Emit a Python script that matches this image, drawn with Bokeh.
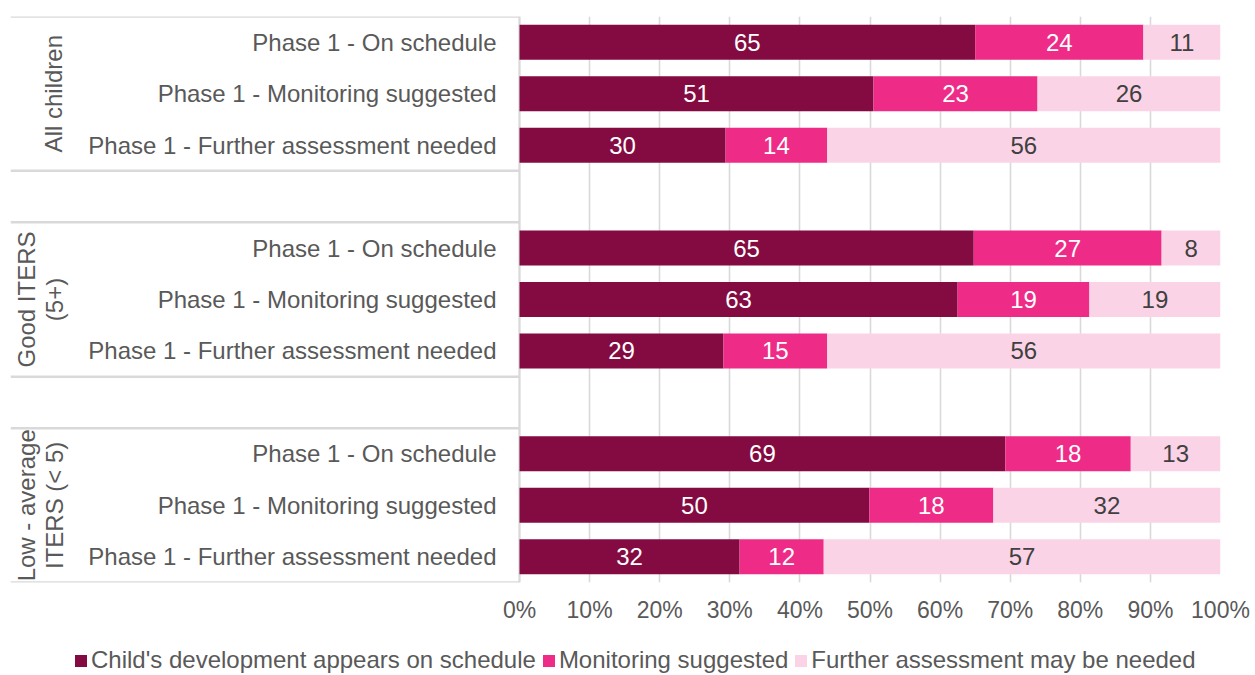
import math
from bokeh.plotting import figure
from bokeh.layouts import column
from bokeh.models import Range1d, FixedTicker, Legend, LegendItem, ColumnDataSource
from bokeh.core.properties import value
from bokeh.embed import file_html
from bokeh.resources import INLINE

# ---------------- data ----------------
groups = [["All children"], ["Good ITERS", "(5+)"], ["Low - average", "ITERS (< 5)"]]
phases = ["Phase 1 - On schedule", "Phase 1 - Monitoring suggested", "Phase 1 - Further assessment needed"]
series_names = ["Child's development appears on schedule", "Monitoring suggested", "Further assessment may be needed"]

on_schedule = [65.0, 50.5, 29.4, 64.8, 62.5, 29.1, 69.3, 49.9, 31.4]
monitoring = [24.0, 23.4, 14.5, 26.8, 18.8, 14.8, 17.9, 17.7, 12.0]
further = [11.0, 26.1, 56.1, 8.4, 18.7, 56.1, 12.8, 32.4, 56.6]

on_labels = ["65", "51", "30", "65", "63", "29", "69", "50", "32"]
mon_labels = ["24", "23", "14", "27", "19", "15", "18", "18", "12"]
fur_labels = ["11", "26", "56", "8", "19", "56", "13", "32", "57"]

tick_values = [0, 10, 20, 30, 40, 50, 60, 70, 80, 90, 100]
tick_labels = ["0%", "10%", "20%", "30%", "40%", "50%", "60%", "70%", "80%", "90%", "100%"]

colors = ["#840B41", "#EE2C87", "#FBD3E6"]
label_colors = ["white", "white", "#404040"]
FONT = "Liberation Sans"
GRAY = "#595959"
LINE = "#D9D9D9"

# ---------------- layout ----------------
W, H1, H2 = 1254, 632, 42
BL, BR, BT, BB = 10, 34, 16, 50
frame_w = W - BL - BR          # 1210
px_per_unit = 7.01             # 100% spans 701 px
x_start = -(frame_w - 100 * px_per_unit) / px_per_unit

def px_to_x(px):
    # canvas x -> data x
    return x_start + (px - BL) / px_per_unit

n_rows = len(groups) * 4 - 1
ys, cats = [], []
for gi in range(len(groups)):
    for pi, ph in enumerate(phases):
        ys.append(gi * 4 + pi)
        cats.append(ph)

src = ColumnDataSource(dict(
    y=ys, on=on_schedule, mon=monitoring, fur=further,
    on_c=[a / 2 for a in on_schedule],
    mon_c=[a + b / 2 for a, b in zip(on_schedule, monitoring)],
    fur_c=[a + b + c / 2 for a, b, c in zip(on_schedule, monitoring, further)],
    on_l=on_labels, mon_l=mon_labels, fur_l=fur_labels, cat=cats,
))

p = figure(width=W, height=H1, output_backend="svg", toolbar_location=None,
           x_range=Range1d(x_start, 100), y_range=Range1d(n_rows - 0.5, -0.5),
           min_border_left=BL, min_border_right=BR, min_border_top=BT, min_border_bottom=BB)
p.outline_line_color = None
p.background_fill_color = "white"
p.yaxis.visible = False
p.ygrid.visible = False

ax = p.xaxis[0]
ax.ticker = FixedTicker(ticks=tick_values)
ax.major_label_overrides = {v: l for v, l in zip(tick_values, tick_labels)}
ax.axis_line_color = None
ax.major_tick_line_color = None
ax.minor_tick_line_color = None
ax.major_tick_out = 0
ax.major_label_standoff = 14
ax.major_label_text_font = FONT
ax.major_label_text_font_size = "23px"
ax.major_label_text_color = GRAY

g = p.xgrid[0]
g.ticker = FixedTicker(ticks=tick_values)
g.grid_line_color = LINE
g.grid_line_width = 1.6

# left-side table separators
sep_y = [-0.5, 2.5, 3.5, 6.5, 7.5, n_rows - 0.5]
p.segment(x0=[x_start] * len(sep_y), x1=[0] * len(sep_y), y0=sep_y, y1=sep_y,
          line_color=LINE, line_width=2.5)
p.segment(x0=[0], x1=[0], y0=[-0.5], y1=[n_rows - 0.5], line_color=LINE, line_width=2)

# bars
rends = p.hbar_stack(["on", "mon", "fur"], y="y", height=0.68, color=colors,
                     line_color=None, source=src)

# data labels
for cx, lab, col in zip(["on_c", "mon_c", "fur_c"], ["on_l", "mon_l", "fur_l"], label_colors):
    p.text(x=cx, y="y", text=lab, source=src, text_align="center", text_baseline="middle",
           text_font=value(FONT), text_font_size=value("24px"), text_color=col)

# category labels
p.text(x=px_to_x(496), y="y", text="cat", source=src, text_align="right", text_baseline="middle",
       text_font=value(FONT), text_font_size=value("24px"), text_color=GRAY)

# group labels (rotated)
gx, gy, gt = [], [], []
for gi, lines in enumerate(groups):
    xs = [53] if len(lines) == 1 else [26, 54]
    for line, xpx in zip(lines, xs):
        gx.append(px_to_x(xpx))
        gy.append(gi * 4 + 1)
        gt.append(line)
p.text(x=gx, y=gy, text=gt, angle=math.pi / 2, text_align="center", text_baseline="middle",
       text_font=value(FONT), text_font_size=value("24px"), text_color=GRAY)

# ---------------- legend strip ----------------
p2 = figure(width=W, height=H2, output_backend="svg", toolbar_location=None,
            x_range=Range1d(0, 1), y_range=Range1d(0, 1),
            min_border_left=0, min_border_right=0, min_border_top=0, min_border_bottom=0)
p2.axis.visible = False
p2.grid.visible = False
p2.outline_line_color = None
# legend swatches: one off-screen bar per series (outside the strip's ranges)
dummies = [p2.hbar(y=[-10], left=[-10], right=[-9], height=0.5, fill_color=c, line_color=None)
           for c in colors]
legend = Legend(items=[LegendItem(label=n, renderers=[r]) for n, r in zip(series_names, dummies)],
                orientation="horizontal", location=(63, 0),
                glyph_width=15, glyph_height=15, label_standoff=3, spacing=5,
                padding=0, margin=0, border_line_color=None, background_fill_alpha=0,
                label_text_font=FONT, label_text_font_size="24px", label_text_color=GRAY)
p2.add_layout(legend)

open("out.html", "w").write(file_html(column(p, p2, spacing=0), INLINE))
